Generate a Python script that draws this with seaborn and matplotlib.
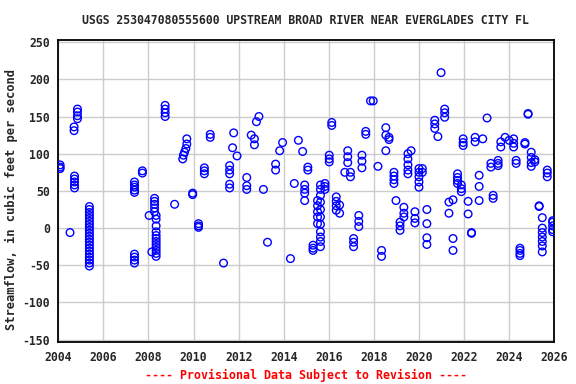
import matplotlib
matplotlib.use("Agg")
import matplotlib.pyplot as plt
import seaborn as sns
import pandas as pd

# ---- data (decimal year, streamflow cfs) ----
sample_years = (
    [2004.08] * 3 + [2004.52] + [2004.70] * 2 + [2004.72] * 5 + [2004.85] * 4 +
    [2005.38] * 21 +
    [2007.38] * 5 + [2007.38] * 4 + [2007.73] * 2 + [2008.03] + [2008.15] +
    [2008.27] * 5 + [2008.34] * 12 + [2008.74] * 4 + [2009.16] +
    [2009.70, 2009.70, 2009.66, 2009.60, 2009.55, 2009.52] +
    [2009.96] * 2 + [2010.22] * 3 + [2010.48] * 3 + [2010.74] * 2 + [2011.33] +
    [2011.60] * 5 + [2011.78] + [2011.73] + [2011.93] + [2012.36] * 3 +
    [2012.56] + [2012.70] * 2 + [2012.79] + [2012.90] + [2013.10] + [2013.28] +
    [2013.64] * 2 + [2013.82] + [2013.95] + [2014.30] + [2014.47] + [2014.65] +
    [2014.84] + [2014.93] * 4 + [2015.07] * 2 + [2015.30] * 3 + [2015.50] * 5 +
    [2015.63] * 11 + [2015.83] * 3 + [2016.02] * 3 + [2016.13] * 2 +
    [2016.33] * 4 + [2016.48] * 2 + [2016.71] + [2016.84] * 3 + [2016.96] * 2 +
    [2017.10] * 3 + [2017.33] * 3 + [2017.47] * 3 + [2017.64] * 2 +
    [2017.85] + [2017.97] + [2018.18] + [2018.34] * 2 + [2018.53] * 3 +
    [2018.67] * 2 + [2018.89] * 4 + [2018.98] + [2019.16] * 3 + [2019.33] * 3 +
    [2019.51] * 5 + [2019.65] + [2019.82] * 3 + [2020.00] * 5 + [2020.15] * 2 +
    [2020.35] * 4 + [2020.70] * 3 + [2020.84] + [2020.98] + [2021.14] * 3 +
    [2021.33] * 2 + [2021.51] * 3 + [2021.71] * 4 + [2021.88] * 3 +
    [2021.96] * 3 + [2022.18] * 2 + [2022.33] * 2 + [2022.49] * 2 +
    [2022.67] * 3 + [2022.83] + [2023.02] + [2023.19] * 2 + [2023.29] * 2 +
    [2023.51] * 3 + [2023.63] * 2 + [2023.82] + [2024.00] + [2024.20] * 3 +
    [2024.31] * 2 + [2024.48] * 4 + [2024.70] * 2 + [2024.84] * 2 +
    [2024.98] * 4 + [2025.14] * 2 + [2025.33] * 2 + [2025.47] * 7 +
    [2025.69] * 3 + [2025.93] * 5
)

streamflow_cfs = (
    [85, 82, 80] + [-6] + [136, 131] + [70, 66, 62, 58, 54] + [160, 156, 151, 147] +
    [29, 25, 21, 17, 13, 9, 5, 1, -3, -7, -11, -15, -19, -23, -27, -31, -35, -39, -43, -47, -51] +
    [62, 58, 55, 51, 48] + [-35, -39, -43, -47] + [77, 74] + [17] + [-32] +
    [40, 36, 32, 27, 22] + [17, 12, 3, -5, -10, -14, -18, -22, -26, -30, -34, -38] +
    [165, 160, 155, 150] + [32] +
    [120, 113, 107, 102, 98, 93] +
    [47, 45] + [6, 3, 1] + [81, 77, 73] + [126, 122] + [-47] +
    [84, 78, 73, 59, 54] + [128] + [108] + [97] + [68, 57, 52] +
    [125] + [120, 112] + [143] + [150] + [52] + [-19] +
    [86, 78] + [104] + [115] + [-41] + [60] + [118] +
    [103] + [58, 52, 47, 37] + [82, 78] + [-23, -27, -30] + [37, 30, 22, 15, 6] +
    [58, 52, 44, 35, 25, 15, 5, -5, -12, -18, -25] + [60, 56, 52] + [98, 93, 89] + [142, 138] +
    [42, 36, 30, 24] + [31, 20] + [75] + [104, 96, 88] + [75, 69] +
    [-14, -19, -25] + [17, 9, 2] + [98, 90, 81] + [130, 126] +
    [171] + [171] + [83] + [-30, -38] + [135, 125, 104] +
    [122, 119] + [75, 70, 65, 60] + [37] + [8, 3, -3] + [28, 20, 15] +
    [100, 93, 85, 78, 73] + [104] + [22, 13, 7] + [80, 75, 69, 62, 55] + [80, 75] +
    [25, 6, -13, -22] + [145, 140, 134] + [123] + [209] + [160, 155, 149] +
    [35, 20] + [38, -14, -30] + [73, 68, 64, 60] + [58, 53, 49] +
    [120, 115, 111] + [36, 19] + [-6, -7] + [122, 116] +
    [71, 56, 37] + [120] + [148] + [87, 82] + [44, 40] +
    [91, 87, 84] + [116, 109] + [122] + [118] + [120, 114, 109] +
    [91, 87] + [-27, -30, -34, -37] + [113, 115] + [154, 153] +
    [102, 95, 88, 83] + [89, 92] + [30, 29] + [14, 0, -6, -12, -18, -24, -32] +
    [78, 74, 69] + [10, 8, 3, -2, -5]
)

x_ticks = list(range(2004, 2027, 2))
y_ticks = list(range(-150, 251, 50))

title = "USGS 253047080555600 UPSTREAM BROAD RIVER NEAR EVERGLADES CITY FL"
ylabel = "Streamflow, in cubic feet per second"
footer = "---- Provisional Data Subject to Revision ----"

df = pd.DataFrame({"year": sample_years, "flow": streamflow_cfs})

sns.set_style("white")
plt.rcParams["font.family"] = ["DejaVu Sans Mono"]

fig = plt.figure(figsize=(5.76, 3.84), dpi=100)
ax = fig.add_axes([0.1012, 0.1086, 0.861, 0.7885])

sns.scatterplot(data=df, x="year", y="flow", ax=ax, marker="o", s=30,
                facecolor="none", edgecolor="#0000ff", linewidth=1.0, zorder=3)

ax.set_xlim(2004, 2026)
ax.set_ylim(-153.5, 253.5)
ax.set_xticks(x_ticks)
ax.set_yticks(y_ticks)
ax.set_xticklabels([str(t) for t in x_ticks], fontsize=8.3, fontweight="bold")
ax.set_yticklabels([str(t) for t in y_ticks], fontsize=8.3, fontweight="bold")
ax.grid(True, color="#cccccc", linewidth=1.0, zorder=0)
ax.set_axisbelow(True)
ax.tick_params(axis="both", length=3, width=0.8, color="black", pad=3)
for sp in ax.spines.values():
    sp.set_color("black")
    sp.set_linewidth(1.3)
    sp.set_visible(True)

ax.set_xlabel("")
ax.set_ylabel("")
fig.text(11 / 576, 1 - 200 / 384, ylabel, rotation=90, ha="center", va="center",
         fontsize=8.7, fontweight="bold")

fig.text(305 / 576, 1 - 21 / 384, title, ha="center", va="center", fontsize=8.3,
         fontweight="bold")
fig.text(306 / 576, 1 - 375 / 384, footer, ha="center", va="center", fontsize=8.4,
         fontweight="bold", color="red")

fig.savefig("out.png", dpi=100)
